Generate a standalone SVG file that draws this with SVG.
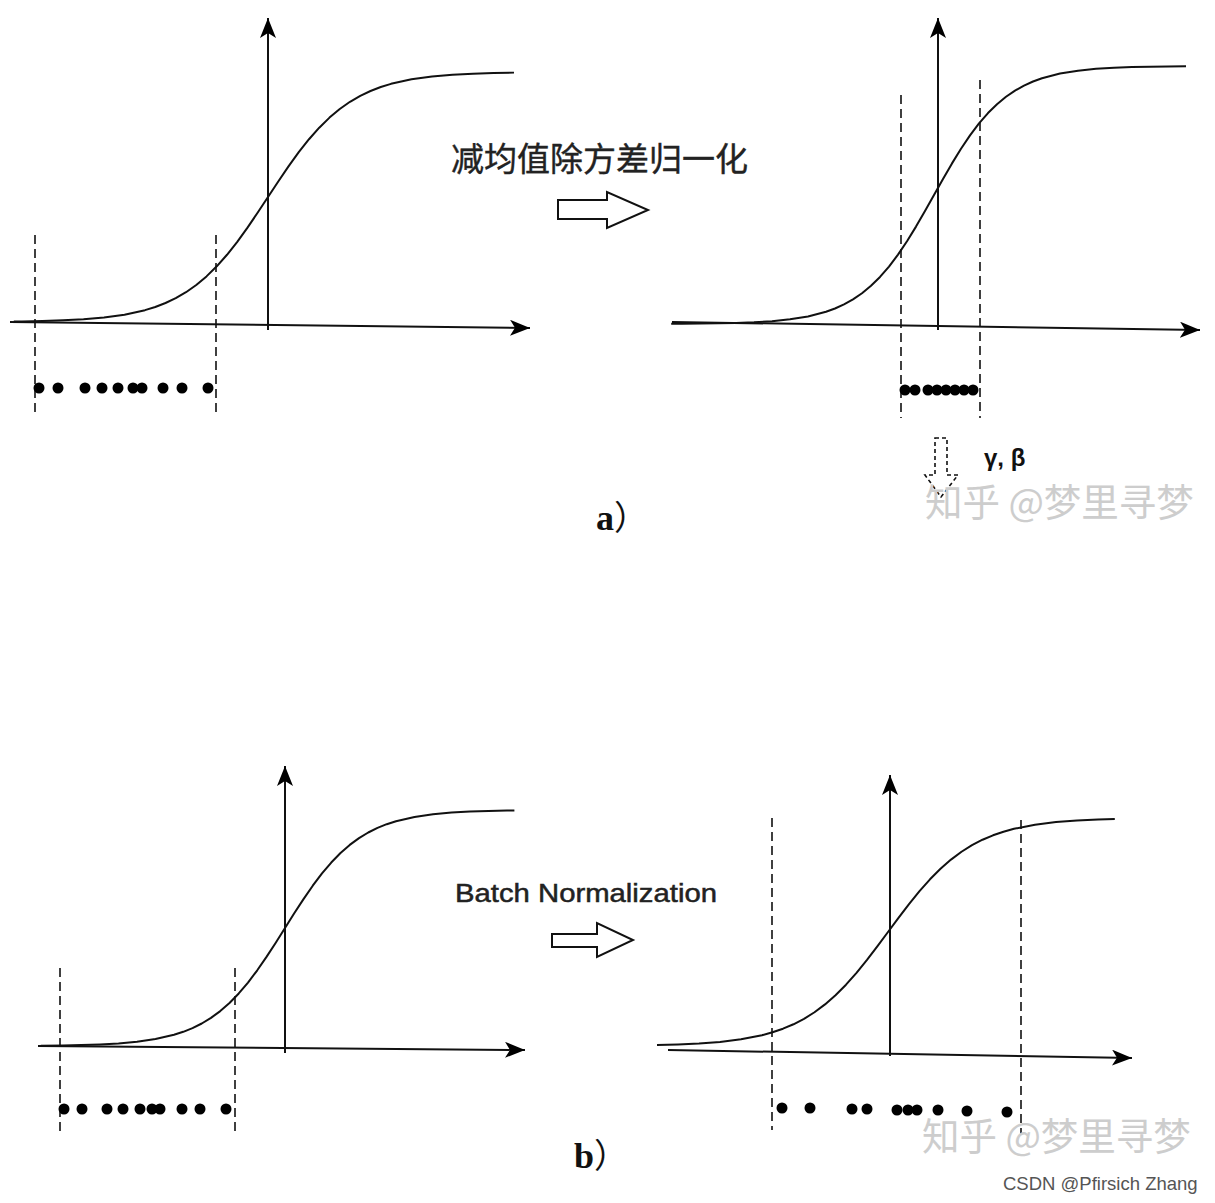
<svg xmlns="http://www.w3.org/2000/svg" width="1215" height="1203" viewBox="0 0 1215 1203">
<defs>
<marker id="ah" markerUnits="userSpaceOnUse" markerWidth="24" markerHeight="20" refX="20" refY="8" orient="auto">
<path d="M20,8 L0,0 L5,8 L0,16 Z" fill="#000"/>
</marker>
<style>
.ax{stroke:#111;stroke-width:2;fill:none;marker-end:url(#ah)}
.sig{stroke:#111;stroke-width:2;fill:none;stroke-linejoin:round}
.dash{stroke:#111;stroke-width:1.6;stroke-dasharray:9,5;fill:none}
.hollow{fill:#fff;stroke:#111;stroke-width:2;stroke-linejoin:miter}
.dot{fill:#000}
.wm{font-family:"Noto Sans CJK SC",sans-serif;font-size:37.5px;fill:#cdcdcd}
</style>
</defs>
<rect width="1215" height="1203" fill="#fff"/>

<g id="panel-a-left">
<line class="ax" x1="10" y1="322" x2="530" y2="328"/>
<line class="ax" x1="268" y1="330" x2="268" y2="18"/>
<polyline class="sig" vector-effect="non-scaling-stroke" transform="translate(268,322) scale(41,-250)" points="-6.2,.002 -6,.0025 -5.5,.0041 -5,.0067 -4.5,.011 -4,.018 -3.5,.0293 -3,.0474 -2.75,.0601 -2.5,.0759 -2.25,.0953 -2,.1192 -1.75,.148 -1.5,.1824 -1.25,.2227 -1,.2689 -0.75,.3208 -0.5,.3775 -0.25,.4378 0,.5 0.25,.5622 0.5,.6225 0.75,.6792 1,.7311 1.25,.7773 1.5,.8176 1.75,.852 2,.8808 2.25,.9047 2.5,.9241 2.75,.9399 3,.9526 3.5,.9707 4,.982 4.5,.989 5,.9933 5.5,.9959 6,.9975"/>
<line class="dash" x1="35" y1="235" x2="35" y2="412"/>
<line class="dash" x1="216" y1="235" x2="216" y2="412"/>
<g class="dot">
<circle cx="39" cy="388" r="5.5"/><circle cx="58" cy="388" r="5.5"/><circle cx="85" cy="388" r="5.5"/><circle cx="102" cy="388" r="5.5"/><circle cx="118" cy="388" r="5.5"/><circle cx="133" cy="388" r="5.5"/><circle cx="142" cy="388" r="5.5"/><circle cx="163" cy="388" r="5.5"/><circle cx="182" cy="388" r="5.5"/><circle cx="208" cy="388" r="5.5"/>
</g>
</g>

<g id="transform-a">
<text x="451" y="171" font-family="Noto Sans CJK SC, sans-serif" font-size="33" fill="#222" stroke="#222" stroke-width="0.4">减均值除方差归一化</text>
<polygon class="hollow" points="558,200 607,200 607,192 648,210 607,228 607,219 558,219"/>
</g>

<g id="panel-a-right">
<line class="ax" x1="672" y1="322" x2="1200" y2="330"/>
<line class="ax" x1="938" y1="330" x2="938" y2="18"/>
<polyline class="sig" vector-effect="non-scaling-stroke" transform="translate(934,324) scale(36,-258)" points="-7.3,.0007 -7,.0009 -6.5,.0015 -6,.0025 -5.5,.0041 -5,.0067 -4.5,.011 -4,.018 -3.5,.0293 -3,.0474 -2.75,.0601 -2.5,.0759 -2.25,.0953 -2,.1192 -1.75,.148 -1.5,.1824 -1.25,.2227 -1,.2689 -0.75,.3208 -0.5,.3775 -0.25,.4378 0,.5 0.25,.5622 0.5,.6225 0.75,.6792 1,.7311 1.25,.7773 1.5,.8176 1.75,.852 2,.8808 2.25,.9047 2.5,.9241 2.75,.9399 3,.9526 3.5,.9707 4,.982 4.5,.989 5,.9933 5.5,.9959 6,.9975 6.5,.9985 7,.9991"/>
<line class="dash" x1="901" y1="95" x2="901" y2="418"/>
<line class="dash" x1="980" y1="80" x2="980" y2="418"/>
<g class="dot">
<circle cx="905" cy="390" r="5.5"/><circle cx="915" cy="390" r="5.5"/><circle cx="928" cy="390" r="5.5"/><circle cx="937" cy="390" r="5.5"/><circle cx="946" cy="390" r="5.5"/><circle cx="955" cy="390" r="5.5"/><circle cx="964" cy="390" r="5.5"/><circle cx="973" cy="390" r="5.5"/>
</g>
<polygon points="935,438 947,438 947,475 958,475 941,497 925,475 935,475" fill="none" stroke="#111" stroke-width="1.6" stroke-dasharray="4,3"/>
<text x="984" y="466" font-family="Liberation Sans, sans-serif" font-weight="bold" font-size="24" fill="#111">γ, β</text>
</g>

<text x="925" y="516" class="wm">知乎 @梦里寻梦</text>

<text x="596" y="530" font-family="Liberation Serif, serif" font-weight="bold" font-size="36" fill="#111">a<tspan font-family="Noto Sans CJK SC, sans-serif" font-weight="normal" font-size="34">）</tspan></text>

<g id="panel-b-left">
<line class="ax" x1="38" y1="1046" x2="525" y2="1050"/>
<line class="ax" x1="285" y1="1053" x2="285" y2="766"/>
<polyline class="sig" vector-effect="non-scaling-stroke" transform="translate(285,1046) scale(37,-236)" points="-6.6,.0014 -6,.0025 -5.5,.0041 -5,.0067 -4.5,.011 -4,.018 -3.5,.0293 -3,.0474 -2.75,.0601 -2.5,.0759 -2.25,.0953 -2,.1192 -1.75,.148 -1.5,.1824 -1.25,.2227 -1,.2689 -0.75,.3208 -0.5,.3775 -0.25,.4378 0,.5 0.25,.5622 0.5,.6225 0.75,.6792 1,.7311 1.25,.7773 1.5,.8176 1.75,.852 2,.8808 2.25,.9047 2.5,.9241 2.75,.9399 3,.9526 3.5,.9707 4,.982 4.5,.989 5,.9933 5.5,.9959 6,.9975 6.2,.998"/>
<line class="dash" x1="60" y1="968" x2="60" y2="1135"/>
<line class="dash" x1="235" y1="968" x2="235" y2="1135"/>
<g class="dot">
<circle cx="64" cy="1109" r="5.5"/><circle cx="82" cy="1109" r="5.5"/><circle cx="107" cy="1109" r="5.5"/><circle cx="123" cy="1109" r="5.5"/><circle cx="140" cy="1109" r="5.5"/><circle cx="152" cy="1109" r="5.5"/><circle cx="160" cy="1109" r="5.5"/><circle cx="182" cy="1109" r="5.5"/><circle cx="200" cy="1109" r="5.5"/><circle cx="226" cy="1109" r="5.5"/>
</g>
</g>

<g id="transform-b">
<text x="455" y="902" font-family="Liberation Sans, sans-serif" font-size="26" fill="#222" stroke="#222" stroke-width="0.5" textLength="262" lengthAdjust="spacingAndGlyphs">Batch Normalization</text>
<polygon class="hollow" points="552,934 597,934 597,923 633,940 597,957 597,947 552,947"/>
</g>

<g id="panel-b-right">
<line class="ax" x1="668" y1="1050" x2="1132" y2="1058"/>
<line class="ax" x1="890" y1="1056" x2="890" y2="775"/>
<polyline class="sig" vector-effect="non-scaling-stroke" transform="translate(888,1046) scale(42,-228)" points="-5.5,.0041 -5,.0067 -4.5,.011 -4,.018 -3.5,.0293 -3,.0474 -2.75,.0601 -2.5,.0759 -2.25,.0953 -2,.1192 -1.75,.148 -1.5,.1824 -1.25,.2227 -1,.2689 -0.75,.3208 -0.5,.3775 -0.25,.4378 0,.5 0.25,.5622 0.5,.6225 0.75,.6792 1,.7311 1.25,.7773 1.5,.8176 1.75,.852 2,.8808 2.25,.9047 2.5,.9241 2.75,.9399 3,.9526 3.5,.9707 4,.982 4.5,.989 5,.9933 5.4,.9955"/>
<line class="dash" x1="772" y1="818" x2="772" y2="1130"/>
<line class="dash" x1="1021" y1="820" x2="1021" y2="1135"/>
<g class="dot">
<circle cx="782" cy="1108" r="5.5"/><circle cx="810" cy="1108" r="5.5"/><circle cx="852" cy="1109" r="5.5"/><circle cx="867" cy="1109" r="5.5"/><circle cx="897" cy="1110" r="5.5"/><circle cx="908" cy="1110" r="5.5"/><circle cx="917" cy="1110" r="5.5"/><circle cx="938" cy="1110" r="5.5"/><circle cx="967" cy="1111" r="5.5"/><circle cx="1007" cy="1112" r="5.5"/>
</g>
</g>

<text x="922" y="1150" class="wm">知乎 @梦里寻梦</text>

<text x="574" y="1168" font-family="Liberation Serif, serif" font-weight="bold" font-size="36" fill="#111">b<tspan font-family="Noto Sans CJK SC, sans-serif" font-weight="normal" font-size="34">）</tspan></text>

<text x="1003" y="1190" font-family="Liberation Sans, sans-serif" font-size="18.5" fill="#555">CSDN @Pfirsich Zhang</text>
</svg>
